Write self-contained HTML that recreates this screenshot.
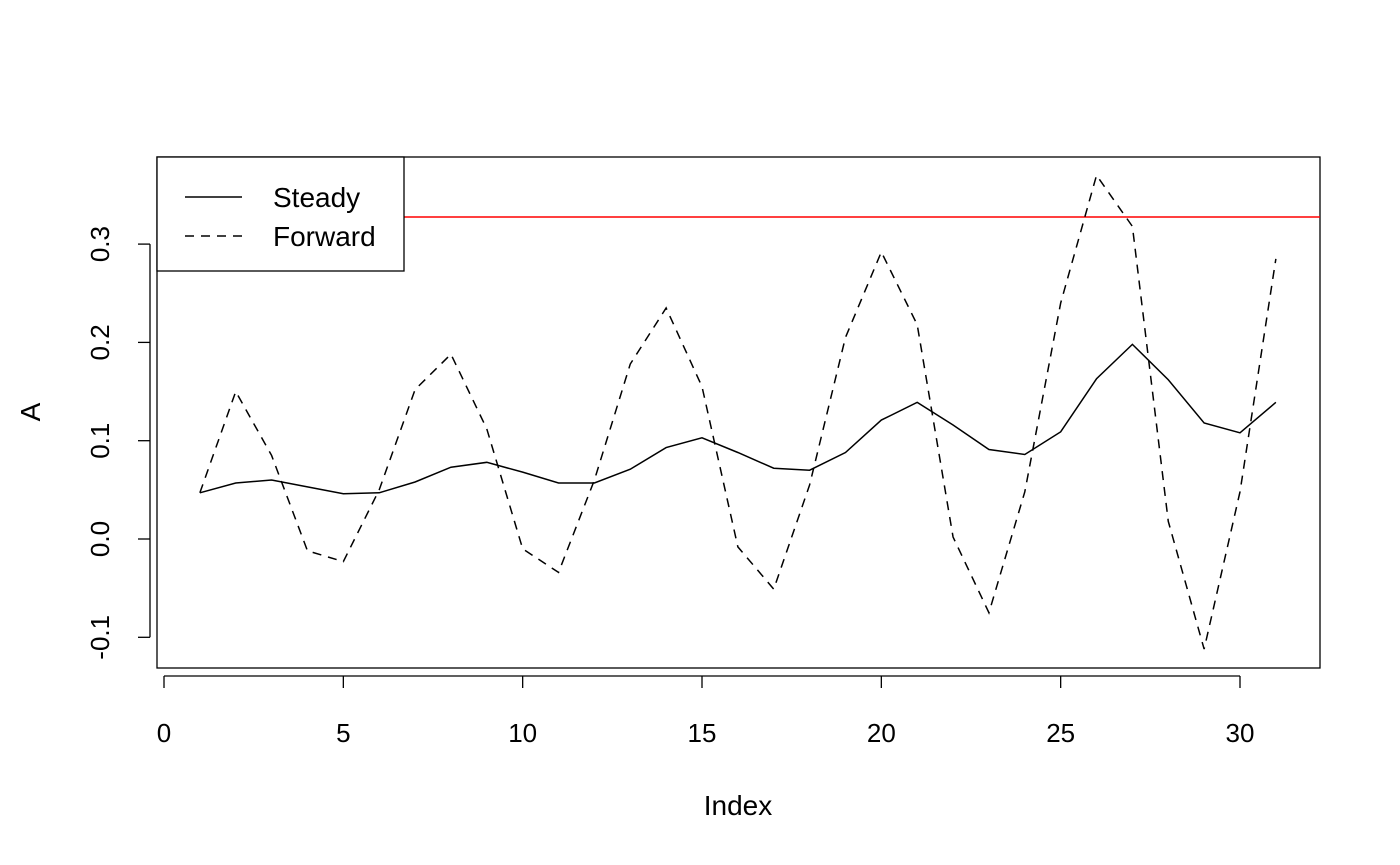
<!DOCTYPE html>
<html><head><meta charset="utf-8"><style>
html,body{margin:0;padding:0;background:#fff}
svg{display:block;font-family:"Liberation Sans",Arial,sans-serif}
</style></head><body>
<svg id="chart" width="1400" height="865" viewBox="0 0 1400 865">
<rect x="157" y="157" width="1163" height="511" fill="none" stroke="#000" stroke-width="1.3"/>
<g id="xaxis"></g>
<g id="yaxis"></g>
<text x="738" y="815" font-size="28" text-anchor="middle">Index</text>
<text transform="translate(40,412) rotate(-90)" font-size="28" text-anchor="middle">A</text>
<g id="series"></g>
<g>
<rect x="157" y="157" width="247" height="114" fill="#fff" stroke="#000" stroke-width="1.3"/>
<line x1="185" y1="197" x2="242" y2="197" stroke="#000" stroke-width="1.5"/>
<text x="273" y="207" font-size="28">Steady</text>
<line x1="185" y1="236" x2="242" y2="236" stroke="#000" stroke-width="1.5" stroke-dasharray="9,7"/>
<text x="273" y="246" font-size="28">Forward</text>
</g>
</svg>
<script>
const steady=[0.047,0.057,0.060,0.053,0.046,0.047,0.058,0.073,0.078,0.068,0.057,0.057,0.071,0.093,0.103,0.088,0.072,0.070,0.088,0.121,0.139,0.116,0.091,0.086,0.109,0.163,0.198,0.162,0.118,0.108,0.139];
const forward=[0.047,0.150,0.085,-0.012,-0.023,0.050,0.152,0.188,0.112,-0.010,-0.034,0.060,0.178,0.235,0.155,-0.008,-0.051,0.055,0.205,0.292,0.218,0.002,-0.075,0.048,0.240,0.370,0.318,0.018,-0.112,0.048,0.285];
const refLine=0.3276;
const xTicks=[0,5,10,15,20,25,30];
const yTicks=[-0.1,0.0,0.1,0.2,0.3];
const NS="http://www.w3.org/2000/svg";
const xs=v=>164+v*(1240-164)/30;
const ys=v=>539-v*983;
function mk(t,a,p){const e=document.createElementNS(NS,t);for(const k in a)e.setAttribute(k,a[k]);p.appendChild(e);return e;}
const xa=document.getElementById('xaxis'),ya=document.getElementById('yaxis'),sg=document.getElementById('series');
mk('line',{x1:xs(0),x2:xs(30),y1:676,y2:676,stroke:'#000','stroke-width':1.3},xa);
xTicks.forEach(t=>{mk('line',{x1:xs(t),x2:xs(t),y1:676,y2:688,stroke:'#000','stroke-width':1.3},xa);
const tx=mk('text',{x:xs(t),y:742,'font-size':26,'text-anchor':'middle'},xa);tx.textContent=t;

});
mk('line',{x1:150,x2:150,y1:ys(-0.1),y2:ys(0.3),stroke:'#000','stroke-width':1.3},ya);
yTicks.forEach(t=>{mk('line',{x1:138,x2:150,y1:ys(t),y2:ys(t),stroke:'#000','stroke-width':1.3},ya);
const tx=mk('text',{transform:`translate(109,${ys(t)}) rotate(-90)`,'font-size':26,'text-anchor':'middle'},ya);tx.textContent=t.toFixed(1);

});
const rl=mk('line',{x1:157,x2:1320,y1:ys(refLine),y2:ys(refLine),stroke:'#f00','stroke-width':1.5},sg);


const p1=mk('polyline',{points:steady.map((v,i)=>xs(i+1)+','+ys(v)).join(' '),fill:'none',stroke:'#000','stroke-width':1.5},sg);


const p2=mk('polyline',{points:forward.map((v,i)=>xs(i+1)+','+ys(v)).join(' '),fill:'none',stroke:'#000','stroke-width':1.5,'stroke-dasharray':'9,7'},sg);


</script>
</body></html>
